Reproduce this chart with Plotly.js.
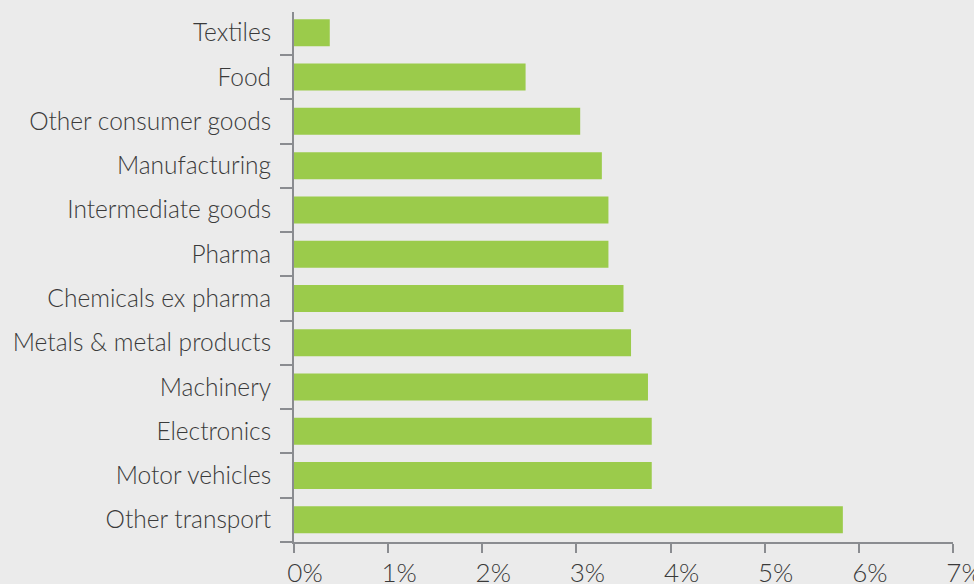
<!DOCTYPE html>
<html>
<head>
<meta charset="utf-8">
<script src="https://cdn.plot.ly/plotly-3.0.1.min.js"></script>
<style>html,body{margin:0;padding:0;background:#ebebeb;}#chart{width:974px;height:584px;}</style>
</head>
<body>
<div id="chart"></div>
<script>
var categories = ["Other transport","Motor vehicles","Electronics","Machinery","Metals & metal products","Chemicals ex pharma","Pharma","Intermediate goods","Manufacturing","Other consumer goods","Food","Textiles"];
var values = [5.83, 3.80, 3.80, 3.76, 3.58, 3.50, 3.34, 3.34, 3.27, 3.04, 2.46, 0.38];
var xTickVals = [0,1,2,3,4,5,6,7];
var xTickText = ["0%","1%","2%","3%","4%","5%","6%","7%"];

var trace = {
  type: "bar",
  orientation: "h",
  y: categories,
  x: values,
  marker: {color: "#9bcb4b"},
  hoverinfo: "x+y"
};
var layout = {
  width: 974, height: 584,
  margin: {l: 294, r: 21, t: 12, b: 42, pad: 0},
  paper_bgcolor: "#ebebeb",
  plot_bgcolor: "#ebebeb",
  bargap: 0.39,
  showlegend: false,
  font: {family: "Lato, 'Open Sans', sans-serif", color: "#3a3a3a", weight: 300},
  xaxis: {
    range: [0, 7],
    tickvals: xTickVals,
    ticktext: xTickText,
    showgrid: false,
    zeroline: false,
    showline: true,
    linecolor: "#8a8c90",
    linewidth: 2,
    ticks: "outside",
    ticklen: 9,
    tickwidth: 2,
    tickcolor: "#8a8c90",
    tickfont: {size: 26, color: "#3a3a3a", weight: 300},
    ticklabelshift: 11,
    ticklabelstandoff: -2,
    ticklabeloverflow: "allow",
    fixedrange: true
  },
  yaxis: {
    type: "category",
    categoryorder: "array",
    categoryarray: categories,
    range: [-0.5, 11.47],
    showgrid: false,
    zeroline: false,
    showline: true,
    linecolor: "#8a8c90",
    linewidth: 2,
    ticks: "outside",
    tickson: "boundaries",
    ticklen: 12,
    tickwidth: 2,
    tickcolor: "#8a8c90",
    tickfont: {size: 24.5, color: "#3a3a3a", weight: 300},
    ticklabelstandoff: 16,
    fixedrange: true
  },
  shapes: [{
    type: "line", xref: "paper", yref: "paper",
    x0: -0.018, x1: 0, y0: 0, y1: 0,
    line: {color: "#8a8c90", width: 2}
  }]
};
Plotly.newPlot("chart", [trace], layout, {displayModeBar: false, staticPlot: true});
</script>
</body>
</html>
